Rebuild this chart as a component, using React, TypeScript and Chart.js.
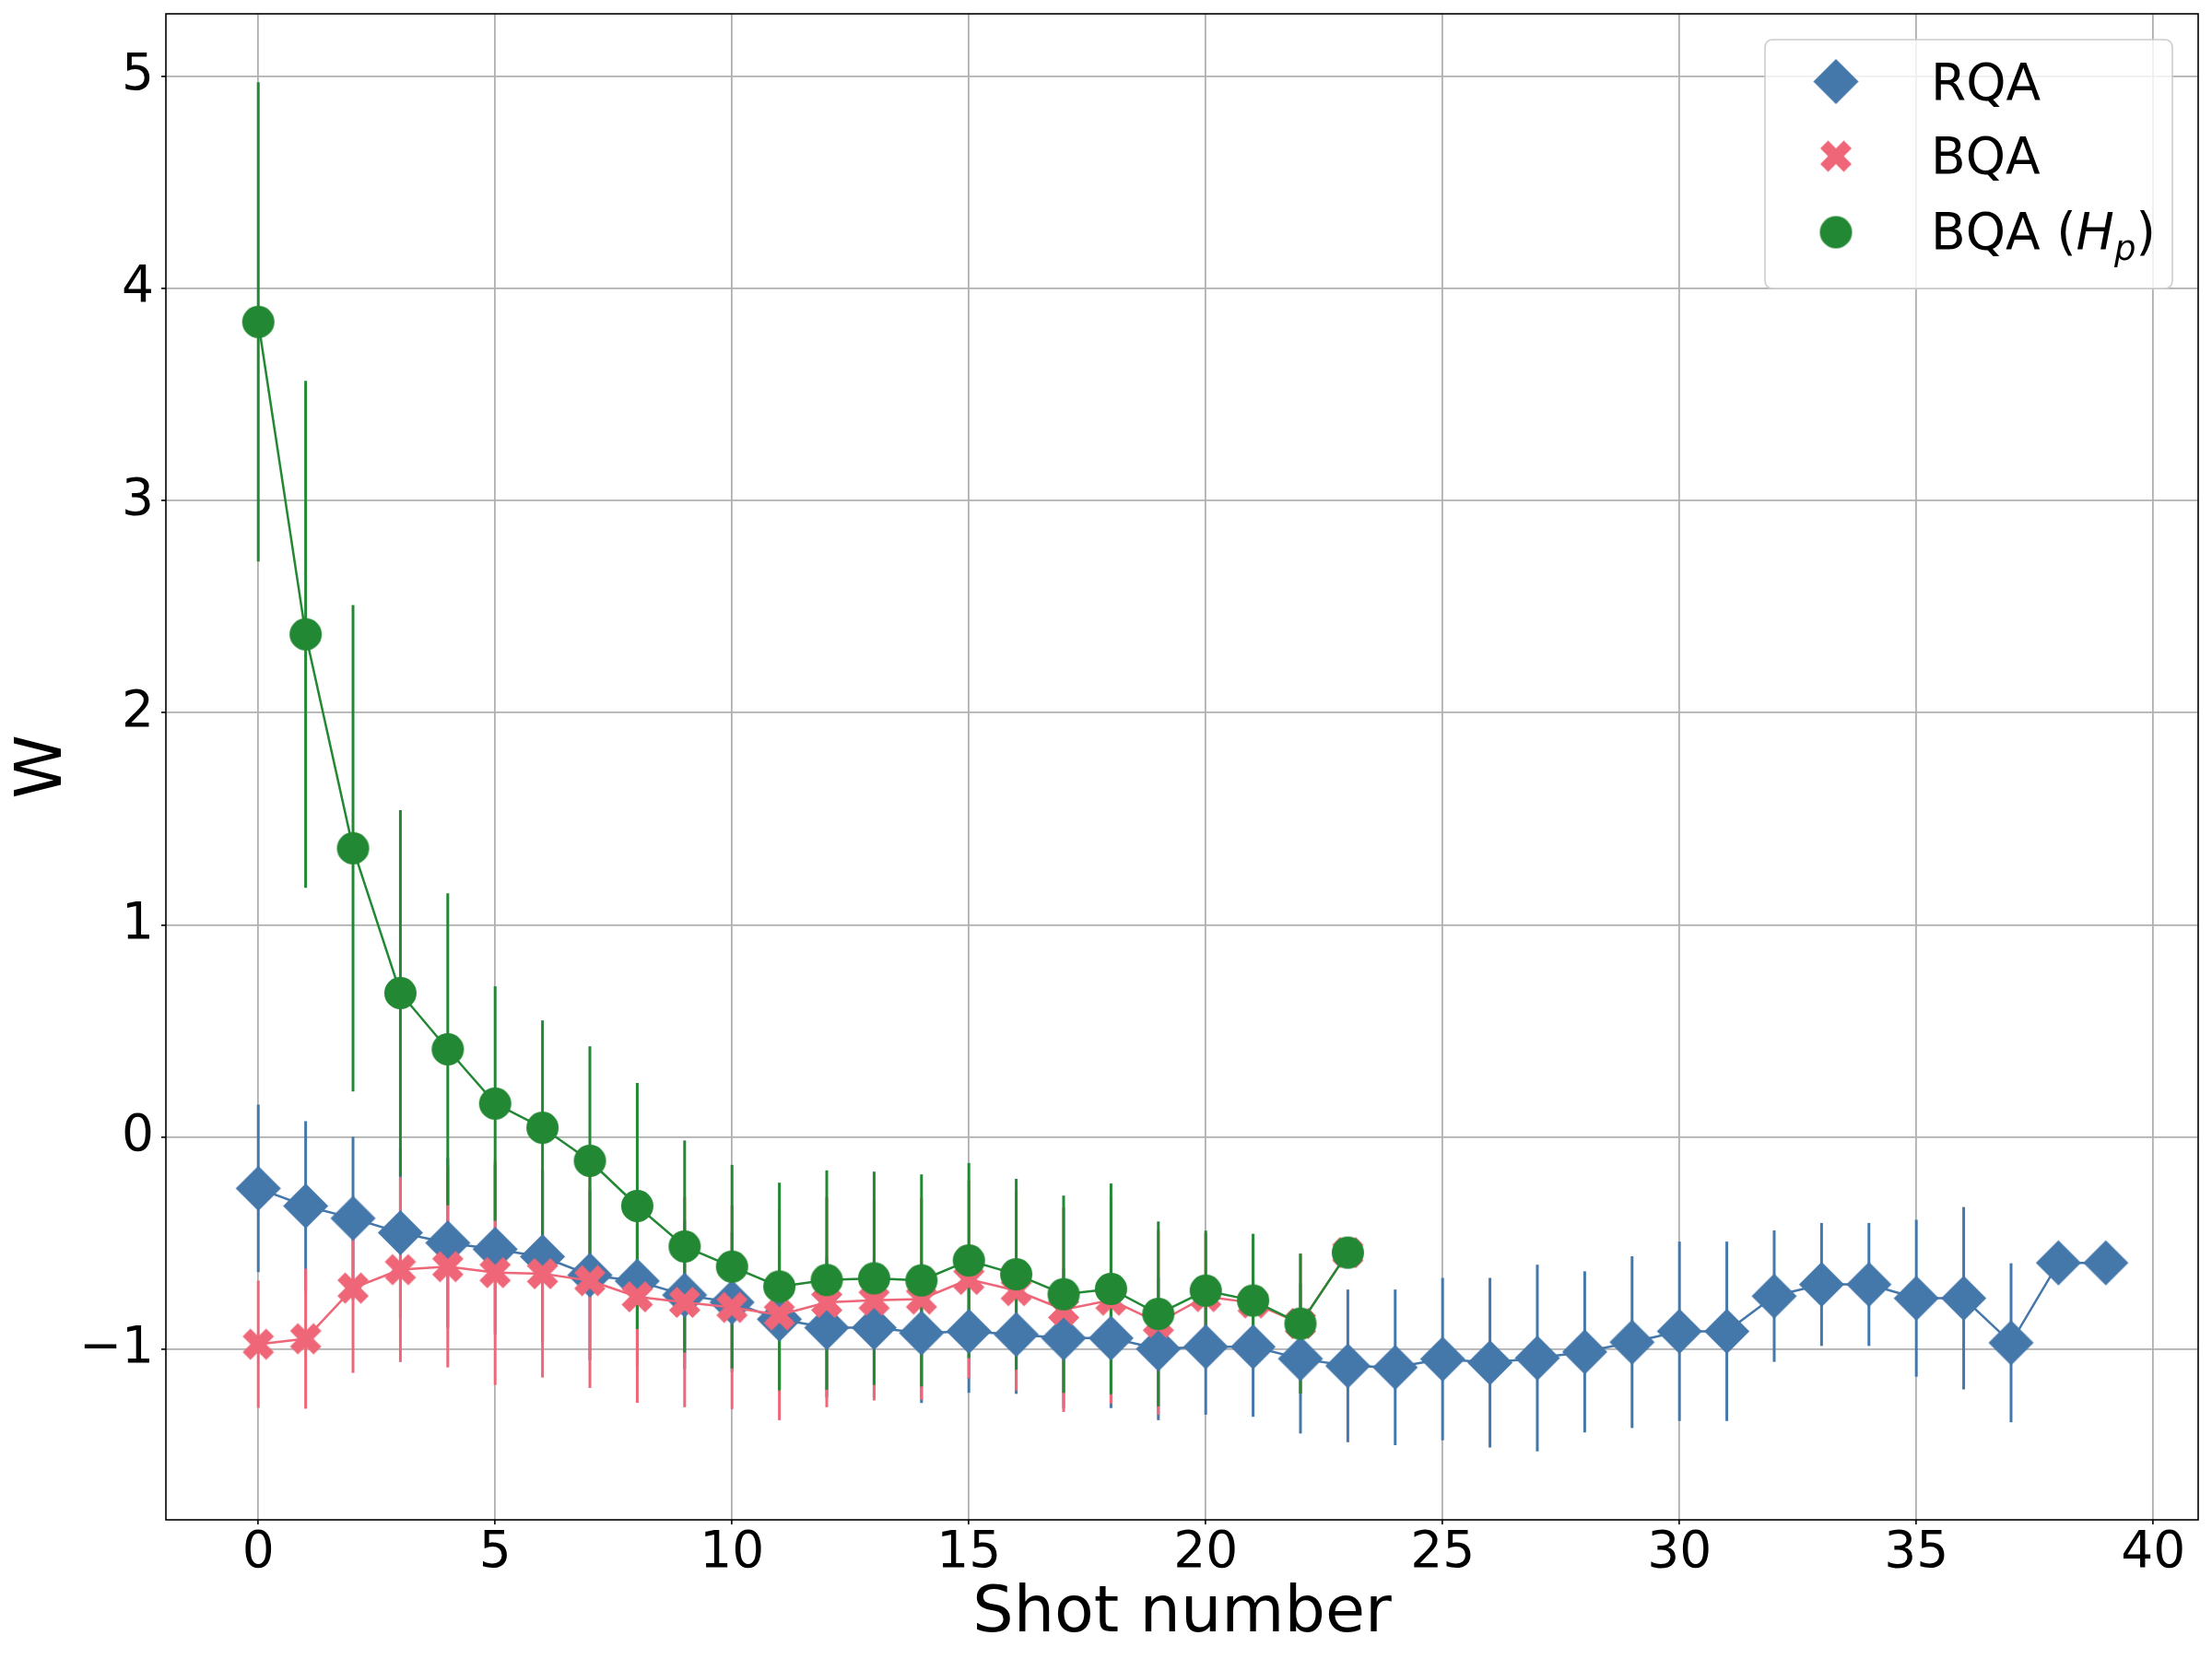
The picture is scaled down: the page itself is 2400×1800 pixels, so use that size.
import React, { useEffect, useRef } from 'react';
import { Chart, registerables } from 'chart.js';

Chart.register(...registerables);

// ---------------- data ----------------
const SHOTS_RQA = [0, 1, 2, 3, 4, 5, 6, 7, 8, 9, 10, 11, 12, 13, 14, 15, 16, 17, 18, 19, 20, 21, 22, 23, 24, 25, 26, 27, 28, 29, 30, 31, 32, 33, 34, 35, 36, 37, 38, 39];
const RQA_W = [-0.243, -0.326, -0.384, -0.452, -0.5, -0.53, -0.565, -0.652, -0.68, -0.746, -0.78, -0.86, -0.9, -0.9, -0.925, -0.917, -0.932, -0.949, -0.949, -1.0, -0.99, -0.99, -1.046, -1.08, -1.087, -1.048, -1.065, -1.043, -1.014, -0.968, -0.917, -0.917, -0.751, -0.696, -0.696, -0.761, -0.761, -0.971, -0.594, -0.594];
const RQA_ERR = [0.395, 0.4, 0.384, 0.4, 0.4, 0.4, 0.4, 0.4, 0.4, 0.35, 0.33, 0.33, 0.33, 0.33, 0.33, 0.29, 0.28, 0.33, 0.33, 0.336, 0.32, 0.33, 0.353, 0.36, 0.367, 0.383, 0.4, 0.44, 0.38, 0.405, 0.423, 0.423, 0.31, 0.29, 0.29, 0.37, 0.43, 0.375, 0, 0];

const SHOTS_BQA = [0, 1, 2, 3, 4, 5, 6, 7, 8, 9, 10, 11, 12, 13, 14, 15, 16, 17, 18, 19, 20, 21, 22, 23];
const BQA_W = [-0.978, -0.952, -0.713, -0.626, -0.612, -0.64, -0.645, -0.678, -0.754, -0.78, -0.804, -0.84, -0.78, -0.77, -0.765, -0.672, -0.725, -0.815, -0.77, -0.875, -0.753, -0.783, -0.88, -0.546];
const BQA_ERR = [0.3, 0.33, 0.4, 0.436, 0.475, 0.53, 0.49, 0.506, 0.5, 0.495, 0.48, 0.496, 0.495, 0.473, 0.475, 0.466, 0.471, 0.482, 0.488, 0.435, 0.3, 0.3, 0.33, 0];

const BQAHP_W = [3.843, 2.37, 1.361, 0.678, 0.413, 0.157, 0.043, -0.113, -0.326, -0.517, -0.612, -0.706, -0.675, -0.667, -0.677, -0.583, -0.648, -0.742, -0.717, -0.835, -0.725, -0.772, -0.881, -0.546];
const BQAHP_ERR = [1.13, 1.195, 1.147, 0.863, 0.736, 0.553, 0.506, 0.54, 0.58, 0.5, 0.48, 0.49, 0.517, 0.503, 0.5, 0.46, 0.45, 0.465, 0.497, 0.436, 0.283, 0.315, 0.33, 0];

const X_TICKS = [0, 5, 10, 15, 20, 25, 30, 35, 40];
const Y_TICKS = [-1, 0, 1, 2, 3, 4, 5];
const X_RANGE = [-1.95, 40.95];
const Y_RANGE = [-1.806, 5.296];

const SERIES_LABELS = ['RQA', 'BQA', 'BQA'];
const HP_MATH = ['H', 'p'];
const X_TITLE = 'Shot number';
const Y_TITLE = 'W';

const COLORS = ['#4477AA', '#EE6677', '#228833'];
const FONT = 'DejaVu Sans';

// ---------------- marker images ----------------
function makeDiamond(color: string, half: number) {
  const s = Math.ceil(half * 2) + 4;
  const c = document.createElement('canvas');
  c.width = s; c.height = s;
  const g = c.getContext('2d')!;
  const m = s / 2;
  g.fillStyle = color;
  g.beginPath();
  g.moveTo(m, m - half);
  g.lineTo(m + half, m);
  g.lineTo(m, m + half);
  g.lineTo(m - half, m);
  g.closePath();
  g.fill();
  return c;
}
function makeCircle(color: string, r: number) {
  const s = Math.ceil(r * 2) + 4;
  const c = document.createElement('canvas');
  c.width = s; c.height = s;
  const g = c.getContext('2d')!;
  g.fillStyle = color;
  g.beginPath();
  g.arc(s / 2, s / 2, r, 0, Math.PI * 2);
  g.fill();
  return c;
}
function makeX(color: string, size: number) {
  const s = Math.ceil(size) + 4;
  const c = document.createElement('canvas');
  c.width = s; c.height = s;
  const g = c.getContext('2d')!;
  const m = s / 2;
  const u = size / 4;
  const pts = [[-1, -2], [0, -1], [1, -2], [2, -1], [1, 0], [2, 1], [1, 2], [0, 1], [-1, 2], [-2, 1], [-1, 0], [-2, -1]];
  g.fillStyle = color;
  g.beginPath();
  pts.forEach(([px, py], i) => {
    const X = m + px * u, Y = m + py * u;
    if (i === 0) g.moveTo(X, Y); else g.lineTo(X, Y);
  });
  g.closePath();
  g.fill();
  return c;
}

function fmtTick(v: number) {
  return v < 0 ? '\u2212' + Math.abs(v) : String(v);
}

export default function App() {
  const ref = useRef<HTMLCanvasElement | null>(null);

  useEffect(() => {
    if (!ref.current) return;
    const markers = [makeDiamond(COLORS[0], 24.5), makeX(COLORS[1], 34), makeCircle(COLORS[2], 17.5)];
    const seriesX = [SHOTS_RQA, SHOTS_BQA, SHOTS_BQA];
    const seriesY = [RQA_W, BQA_W, BQAHP_W];
    const seriesE = [RQA_ERR, BQA_ERR, BQAHP_ERR];

    const errorBars = {
      id: 'errorBars',
      beforeDatasetsDraw(chart: any) {
        const { ctx, scales } = chart;
        const xs = scales.x, ys = scales.y;
        ctx.save();
        ctx.lineWidth = 3;
        ctx.lineCap = 'butt';
        for (let s = 0; s < 3; s++) {
          ctx.strokeStyle = COLORS[s];
          for (let i = 0; i < seriesX[s].length; i++) {
            const e = seriesE[s][i];
            if (!e) continue;
            const px = xs.getPixelForValue(seriesX[s][i]);
            const top = ys.getPixelForValue(seriesY[s][i] + e);
            const bot = ys.getPixelForValue(seriesY[s][i] - e);
            ctx.beginPath();
            ctx.moveTo(px, top);
            ctx.lineTo(px, bot);
            ctx.stroke();
          }
        }
        ctx.restore();
      },
    };

    const frameAndLegend = {
      id: 'frameAndLegend',
      afterDraw(chart: any) {
        const { ctx, chartArea: a } = chart;
        ctx.save();
        ctx.strokeStyle = '#000';
        ctx.lineWidth = 1.6;
        ctx.strokeRect(a.left, a.top, a.right - a.left, a.bottom - a.top);

        // legend box
        const bx = 1915, by = 43, bw = 442, bh = 270, r = 9;
        ctx.beginPath();
        ctx.moveTo(bx + r, by);
        ctx.lineTo(bx + bw - r, by);
        ctx.quadraticCurveTo(bx + bw, by, bx + bw, by + r);
        ctx.lineTo(bx + bw, by + bh - r);
        ctx.quadraticCurveTo(bx + bw, by + bh, bx + bw - r, by + bh);
        ctx.lineTo(bx + r, by + bh);
        ctx.quadraticCurveTo(bx, by + bh, bx, by + bh - r);
        ctx.lineTo(bx, by + r);
        ctx.quadraticCurveTo(bx, by, bx + r, by);
        ctx.closePath();
        ctx.fillStyle = 'rgba(255,255,255,0.8)';
        ctx.fill();
        ctx.strokeStyle = '#cccccc';
        ctx.lineWidth = 1.6;
        ctx.stroke();

        const mx = 1992;
        const rowsY = [88.5, 169.5, 252];
        const baselines = [108, 188, 270];
        const tx = 2095;
        for (let s = 0; s < 3; s++) {
          const img = markers[s];
          ctx.drawImage(img, mx - img.width / 2, rowsY[s] - img.height / 2);
        }
        ctx.fillStyle = '#000';
        ctx.textBaseline = 'alphabetic';
        ctx.textAlign = 'left';
        ctx.font = `55px "${FONT}"`;
        ctx.fillText(SERIES_LABELS[0], tx, baselines[0]);
        ctx.fillText(SERIES_LABELS[1], tx, baselines[1]);
        // BQA (H_p)
        let x = tx;
        const head = SERIES_LABELS[2] + ' ';
        ctx.fillText(head, x, baselines[2]);
        x += ctx.measureText(head).width;
        ctx.fillText('(', x, baselines[2]);
        x += ctx.measureText('(').width;
        ctx.font = `italic 55px "${FONT}"`;
        ctx.fillText(HP_MATH[0], x, baselines[2]);
        x += ctx.measureText(HP_MATH[0]).width;
        ctx.font = `italic 37px "${FONT}"`;
        ctx.fillText(HP_MATH[1], x, baselines[2] + 12);
        x += ctx.measureText(HP_MATH[1]).width;
        ctx.font = `55px "${FONT}"`;
        ctx.fillText(')', x, baselines[2]);
        ctx.restore();
      },
    };

    const mk = (s: number, order: number) => ({
      label: s === 2 ? 'BQA (H_p)' : SERIES_LABELS[s],
      data: seriesX[s].map((xv, i) => ({ x: xv, y: seriesY[s][i] })),
      borderColor: COLORS[s],
      backgroundColor: COLORS[s],
      borderWidth: 2.5,
      pointStyle: markers[s],
      pointRadius: 10,
      pointHoverRadius: 10,
      tension: 0,
      fill: false,
      showLine: true,
      order,
    });

    const tickFont = { family: FONT, size: 55, lineHeight: 1 };
    const chart = new Chart(ref.current, {
      type: 'line',
      data: { datasets: [mk(0, 2), mk(1, 1), mk(2, 0)] as any },
      options: {
        animation: false,
        responsive: false,
        devicePixelRatio: 1,
        events: [],
        layout: { padding: { top: 15, right: 15, left: 0, bottom: 0 } },
        plugins: { legend: { display: false }, tooltip: { enabled: false } },
        scales: {
          x: {
            type: 'linear',
            min: X_RANGE[0],
            max: X_RANGE[1],
            afterBuildTicks: (sc: any) => { sc.ticks = X_TICKS.map((v) => ({ value: v })); },
            afterFit: (sc: any) => { sc.height = 151; sc.paddingLeft = 0; sc.paddingRight = 0; },
            ticks: { font: tickFont, color: '#000', padding: 4, maxRotation: 0, autoSkip: false, callback: (v: any) => fmtTick(Number(v)) },
            grid: { color: '#b0b0b0', lineWidth: 1.8, tickColor: '#000', tickLength: 5, tickWidth: 1.6 },
            border: { display: false },
            title: { display: true, text: X_TITLE, color: '#000', font: { family: FONT, size: 70, lineHeight: 1.2 }, padding: { top: 0, bottom: 6 } },
          },
          y: {
            type: 'linear',
            min: Y_RANGE[0],
            max: Y_RANGE[1],
            afterBuildTicks: (sc: any) => { sc.ticks = Y_TICKS.map((v) => ({ value: v })); },
            afterFit: (sc: any) => { sc.width = 180; sc.paddingTop = 0; sc.paddingBottom = 0; },
            ticks: { font: tickFont, color: '#000', padding: 8, autoSkip: false, callback: (v: any) => fmtTick(Number(v)) },
            grid: { color: '#b0b0b0', lineWidth: 1.8, tickColor: '#000', tickLength: 5, tickWidth: 1.6 },
            border: { display: false },
            title: { display: true, text: Y_TITLE, color: '#000', font: { family: FONT, size: 70, lineHeight: 1.2 }, padding: { top: 6, bottom: 0 } },
          },
        },
      } as any,
      plugins: [errorBars, frameAndLegend],
    });
    return () => chart.destroy();
  }, []);

  return (
    <div style={{ position: 'fixed', left: 0, top: 0, width: 2400, height: 1800, background: '#fff' }}>
      <canvas ref={ref} width={2400} height={1800} style={{ display: 'block', width: 2400, height: 1800 }} />
    </div>
  );
}
